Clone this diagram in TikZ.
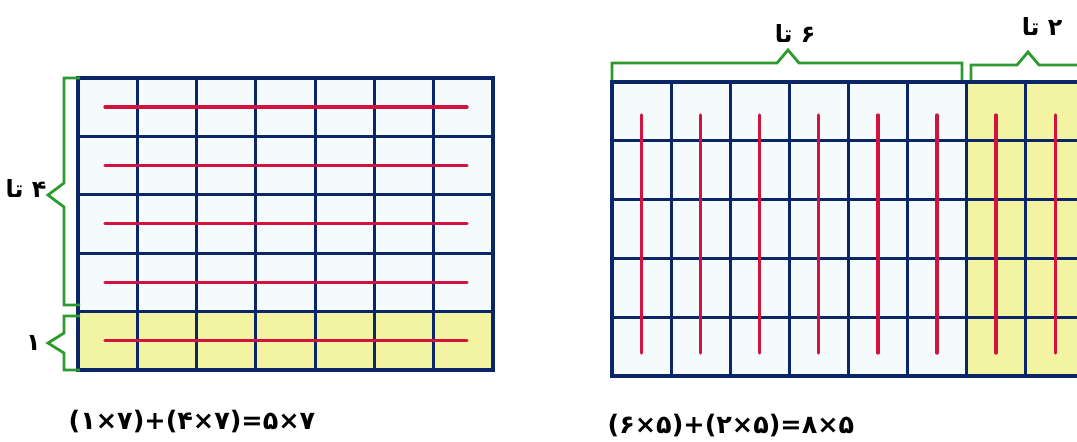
\documentclass[tikz,border=0pt]{standalone}
\usepackage{fontspec}
\newfontfamily\farsi[Script=Arabic]{DejaVu Sans}
\newfontfamily\cifras{DejaVu Sans}
\TeXXeTstate=1
\usetikzlibrary{positioning}
\definecolor{azulrejilla}{HTML}{0B2668}
\definecolor{celeste}{HTML}{F5FBFD}
\definecolor{amarillo}{HTML}{F2F4A2}
\definecolor{rojotrazo}{HTML}{D3123F}
\definecolor{verdellave}{HTML}{2C9A2C}
\colorlet{colRejilla}{azulrejilla}
\colorlet{colCelda}{celeste}
\colorlet{colResalte}{amarillo}
\colorlet{colTrazo}{rojotrazo}
\colorlet{colLlave}{verdellave}
\tikzset{
  rejilla/.style={draw=colRejilla, line width=1.8pt, line cap=rect},
  trazoRojo/.style={draw=colTrazo, line width=1.9pt, line cap=round},
  llave/.style={draw=colLlave, line width=1.6pt, line join=miter},
  etiquetaLlave/.style={font=\farsi\bfseries\fontsize{13.5}{16}\selectfont,
    text=black, inner sep=1pt},
  ecuacion/.style={font=\cifras\bfseries\fontsize{14.5}{18}\selectfont,
    text=black, inner sep=1pt},
}

\begin{document}
\begin{tikzpicture}[x=0.02cm, y=-0.02cm]
    \useasboundingbox (0,0) rectangle (1077,441);
    % rejilla izquierda 5 x 7
    \fill[colCelda] (78,78) rectangle (493,370);
    \fill[colResalte] (78,311.6) rectangle (493,370);
    \foreach \i in {0,...,7} \draw[rejilla] ({78+59.29*\i},78) -- ({78+59.29*\i},370);
    \foreach \j in {0,...,5} \draw[rejilla] (78,{78+58.4*\j}) -- (493,{78+58.4*\j});
    \foreach \j in {0,...,4} \draw[trazoRojo] (105,{107+58.4*\j}) -- (467,{107+58.4*\j});
    % llaves izquierda
    \coordinate (puntaCuatro) at (48,195);
    \coordinate (puntaUno) at (48,343);
    \draw[llave] (80,78) -- (64,78) -- (64,183) -- (puntaCuatro) -- (64,207) -- (64,305) -- (80,305);
    \draw[llave] (80,316) -- (64,316) -- (64,333) -- (puntaUno) -- (64,353) -- (64,370) -- (80,370);
    \node[etiquetaLlave] (cuatro) at (26,188) {\beginR ۴ تا\endR};
    \node[etiquetaLlave, left=3pt of puntaUno] (uno) {۱};
    \node[ecuacion] (ecIzq) at (192,421) {(۱×۷)+(۴×۷)=۵×۷};
    % rejilla derecha 5 x 8
    \fill[colCelda] (612,82) rectangle (1085,376);
    \fill[colResalte] (966.6,82) rectangle (1085,376);
    \foreach \i in {0,...,8} \draw[rejilla] ({612+59.1*\i},82) -- ({612+59.1*\i},376);
    \foreach \j in {0,...,5} \draw[rejilla] (612,{82+58.8*\j}) -- (1085,{82+58.8*\j});
    \foreach \i in {0,...,7} \draw[trazoRojo] ({641.5+59.1*\i},115) -- ({641.5+59.1*\i},353);
    % llaves arriba
    \coordinate (puntaSeis) at (788,50);
    \coordinate (puntaDos) at (1028,52);
    \draw[llave] (612,80) -- (612,63) -- (777,63) -- (puntaSeis) -- (799,63) -- (962,63) -- (962,80);
    \draw[llave] (971,80) -- (971,65) -- (1017,65) -- (puntaDos) -- (1039,65) -- (1090,65);
    \node[etiquetaLlave, above=3pt of puntaSeis, xshift=4pt] (seis) {\beginR ۶ تا\endR};
    \node[etiquetaLlave, above=8pt of puntaDos, xshift=8pt] (dos) {\beginR ۲ تا\endR};
    \node[ecuacion] (ecDer) at (731,425) {(۶×۵)+(۲×۵)=۸×۵};
\end{tikzpicture}
\end{document}
